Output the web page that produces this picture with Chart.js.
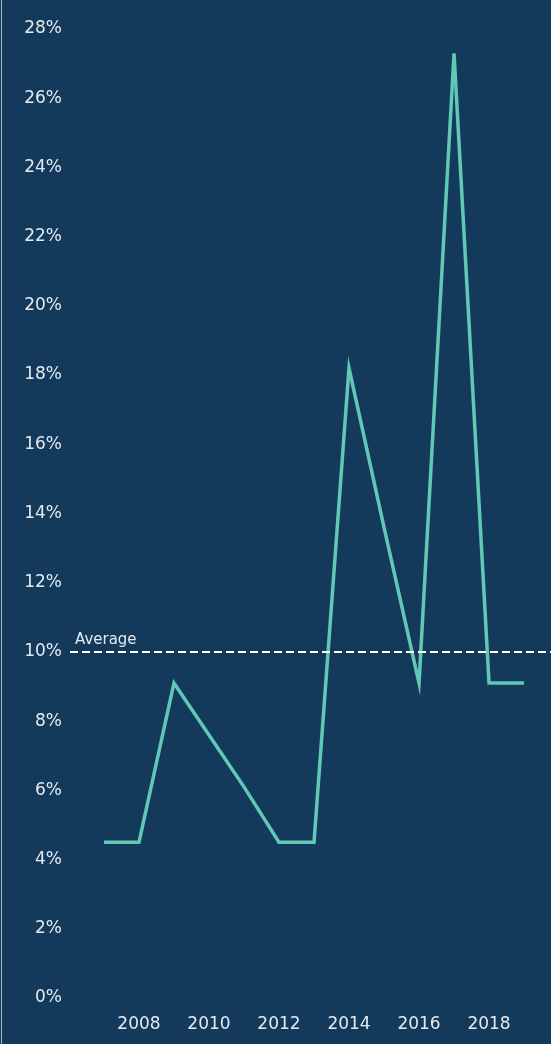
<!DOCTYPE html>
<html>
<head>
<meta charset="utf-8">
<script src="https://cdn.jsdelivr.net/npm/chart.js@4/dist/chart.umd.min.js"></script>
<style>
    html, body { margin: 0; padding: 0; background: #133a5b; }
    #wrap { position: relative; width: 551px; height: 1044px; }
    #edge { position: absolute; left: 1px; top: 0; width: 1px; height: 1044px; background: #aab6c2; }
</style>
</head>
<body>
<div id="wrap">
    <canvas id="lineChart" width="551" height="1044"></canvas>
    <div id="edge"></div>
</div>
<script>
// Values
const years = [2007, 2008, 2009, 2010, 2011, 2012, 2013, 2014, 2015, 2016, 2017, 2018, 2019];
const rates = [4.5, 4.5, 9.1, 7.6, 6.1, 4.5, 4.5, 18.2, 13.6, 9.1, 27.3, 9.1, 9.1];
const averageValue = 10;
const averageLabel = 'Average';
const yTicks = [0, 2, 4, 6, 8, 10, 12, 14, 16, 18, 20, 22, 24, 26, 28];
const xTicks = [2008, 2010, 2012, 2014, 2016, 2018];

const textColor = '#e4eaf0';
const lineColor = '#62c8b6';

// draws the dashed average line and its label
const averagePlugin = {
    id: 'averageLine',
    afterDatasetsDraw(chart) {
        const ctx = chart.ctx;
        const area = chart.chartArea;
        const y = chart.scales.y.getPixelForValue(averageValue);
        ctx.save();
        ctx.strokeStyle = '#ffffff';
        ctx.lineWidth = 2;
        ctx.setLineDash([8, 4]);
        ctx.beginPath();
        ctx.moveTo(area.left, y);
        ctx.lineTo(area.right, y);
        ctx.stroke();
        ctx.setLineDash([]);
        ctx.fillStyle = textColor;
        ctx.font = '15px "DejaVu Sans"';
        ctx.textBaseline = 'bottom';
        ctx.fillText(averageLabel, area.left + 5, y - 4);
        ctx.restore();
    }
};

var ctx = document.getElementById('lineChart').getContext('2d');
var lineChart = new Chart(ctx, {
    type: 'line',
    data: {
        datasets: [{
            label: 'Rate',
            data: years.map((yr, i) => ({ x: yr, y: rates[i] })),
            borderColor: lineColor,
            borderWidth: 3.5,
            pointRadius: 0,
            tension: 0,
            fill: false
        }]
    },
    options: {
        responsive: false,
        animation: false,
        layout: { padding: { top: 29, right: 0, left: 0, bottom: 0 } },
        plugins: {
            legend: { display: false },
            tooltip: { enabled: false }
        },
        scales: {
            x: {
                type: 'linear',
                min: 2006.03,
                max: 2019.77,
                grid: { display: false },
                border: { display: false },
                afterBuildTicks: axis => { axis.ticks = xTicks.map(v => ({ value: v })); },
                afterFit: axis => { axis.height = 46; },
                ticks: {
                    color: textColor,
                    font: { family: 'DejaVu Sans', size: 17 },
                    padding: 8,
                    maxRotation: 0,
                    callback: v => String(v)
                }
            },
            y: {
                min: 0,
                max: 28,
                grid: { display: false },
                border: { display: false },
                afterBuildTicks: axis => { axis.ticks = yTicks.map(v => ({ value: v })); },
                afterFit: axis => { axis.width = 70; },
                ticks: {
                    color: textColor,
                    font: { family: 'DejaVu Sans', size: 17 },
                    padding: 0,
                    callback: v => v + '%'
                }
            }
        }
    },
    plugins: [averagePlugin]
});
</script>
</body>
</html>
